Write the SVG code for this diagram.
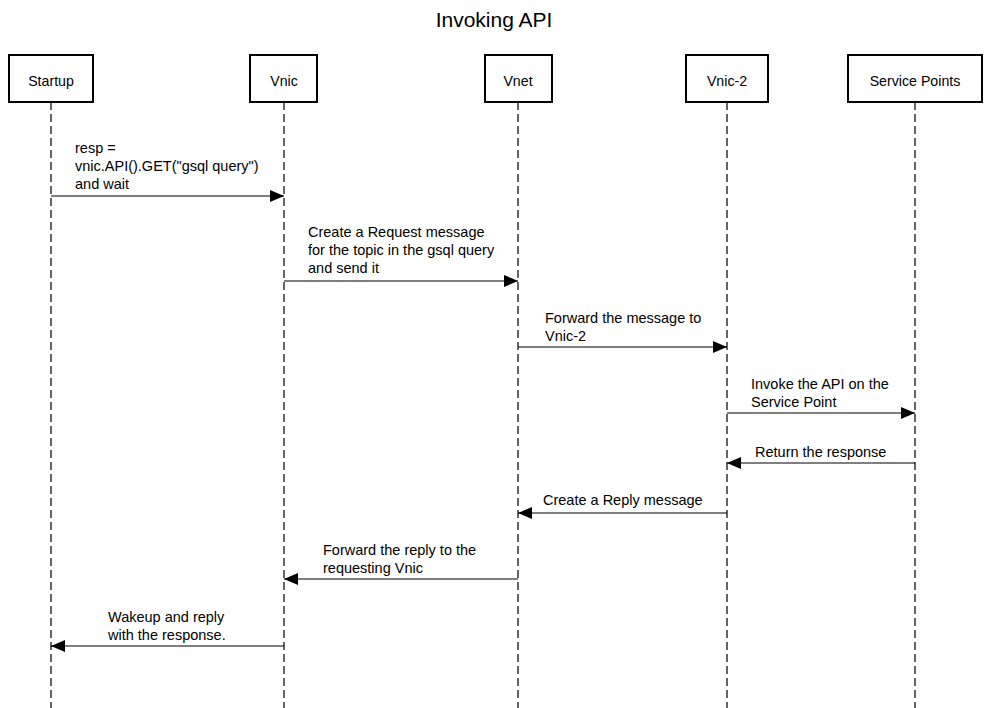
<svg xmlns="http://www.w3.org/2000/svg" width="989" height="708" viewBox="0 0 989 708">
<defs>
<marker id="ah" viewBox="0 0 14 12" refX="14" refY="6" markerWidth="14" markerHeight="12" markerUnits="userSpaceOnUse" orient="auto">
<path d="M0,0 L14,6 L0,12 Z" fill="#000"/>
</marker>
</defs>
<style>
.box{fill:#fff;stroke:#000;stroke-width:2}
.life{stroke:#333;stroke-width:1.5;stroke-dasharray:8 4;fill:none}
.msg{stroke:#000;stroke-width:1.2;fill:none;marker-end:url(#ah)}
text{font-family:"Liberation Sans",Arial,sans-serif;font-size:14.5px;fill:#000}
.nl{text-anchor:middle;font-size:14.2px}
.title{font-size:21px;text-anchor:middle}
</style>
<rect width="989" height="708" fill="#fff"/>
<text class="title" x="494" y="27">Invoking API</text>
<g id="lifelines">
<line class="life" x1="51" y1="102" x2="51" y2="708"/>
<line class="life" x1="284" y1="102" x2="284" y2="708"/>
<line class="life" x1="518" y1="102" x2="518" y2="708"/>
<line class="life" x1="727" y1="102" x2="727" y2="708"/>
<line class="life" x1="915" y1="102" x2="915" y2="708"/>
</g>
<g id="startup"><rect class="box" x="9" y="55" width="84" height="47"/><text class="nl" x="51" y="86">Startup</text></g>
<g id="vnic"><rect class="box" x="250" y="55" width="67" height="47"/><text class="nl" x="284" y="86">Vnic</text></g>
<g id="vnet"><rect class="box" x="485" y="55" width="67" height="47"/><text class="nl" x="518" y="86">Vnet</text></g>
<g id="vnic2"><rect class="box" x="686" y="55" width="82" height="47"/><text class="nl" x="727" y="86">Vnic-2</text></g>
<g id="servicepoints"><rect class="box" x="848" y="55" width="134" height="47"/><text class="nl" x="915" y="86">Service Points</text></g>
<g id="connectors">
<line class="msg" x1="51" y1="196" x2="284" y2="196"/>
<text x="75" y="153">resp =</text>
<text x="75" y="171">vnic.API().GET("gsql query")</text>
<text x="75" y="189">and wait</text>
<line class="msg" x1="284" y1="281" x2="518" y2="281"/>
<text x="308" y="237">Create a Request message</text>
<text x="308" y="255">for the topic in the gsql query</text>
<text x="308" y="273">and send it</text>
<line class="msg" x1="518" y1="347" x2="727" y2="347"/>
<text x="545" y="323">Forward the message to</text>
<text x="545" y="341">Vnic-2</text>
<line class="msg" x1="727" y1="413" x2="915" y2="413"/>
<text x="751" y="389">Invoke the API on the</text>
<text x="751" y="407">Service Point</text>
<line class="msg" x1="915" y1="463" x2="727" y2="463"/>
<text x="755" y="457">Return the response</text>
<line class="msg" x1="727" y1="513" x2="518" y2="513"/>
<text x="543" y="505">Create a Reply message</text>
<line class="msg" x1="518" y1="579" x2="284" y2="579"/>
<text x="323" y="555">Forward the reply to the</text>
<text x="323" y="573">requesting Vnic</text>
<line class="msg" x1="284" y1="646" x2="51" y2="646"/>
<text x="108" y="622">Wakeup and reply</text>
<text x="108" y="640">with the response.</text>
</g>
</svg>
